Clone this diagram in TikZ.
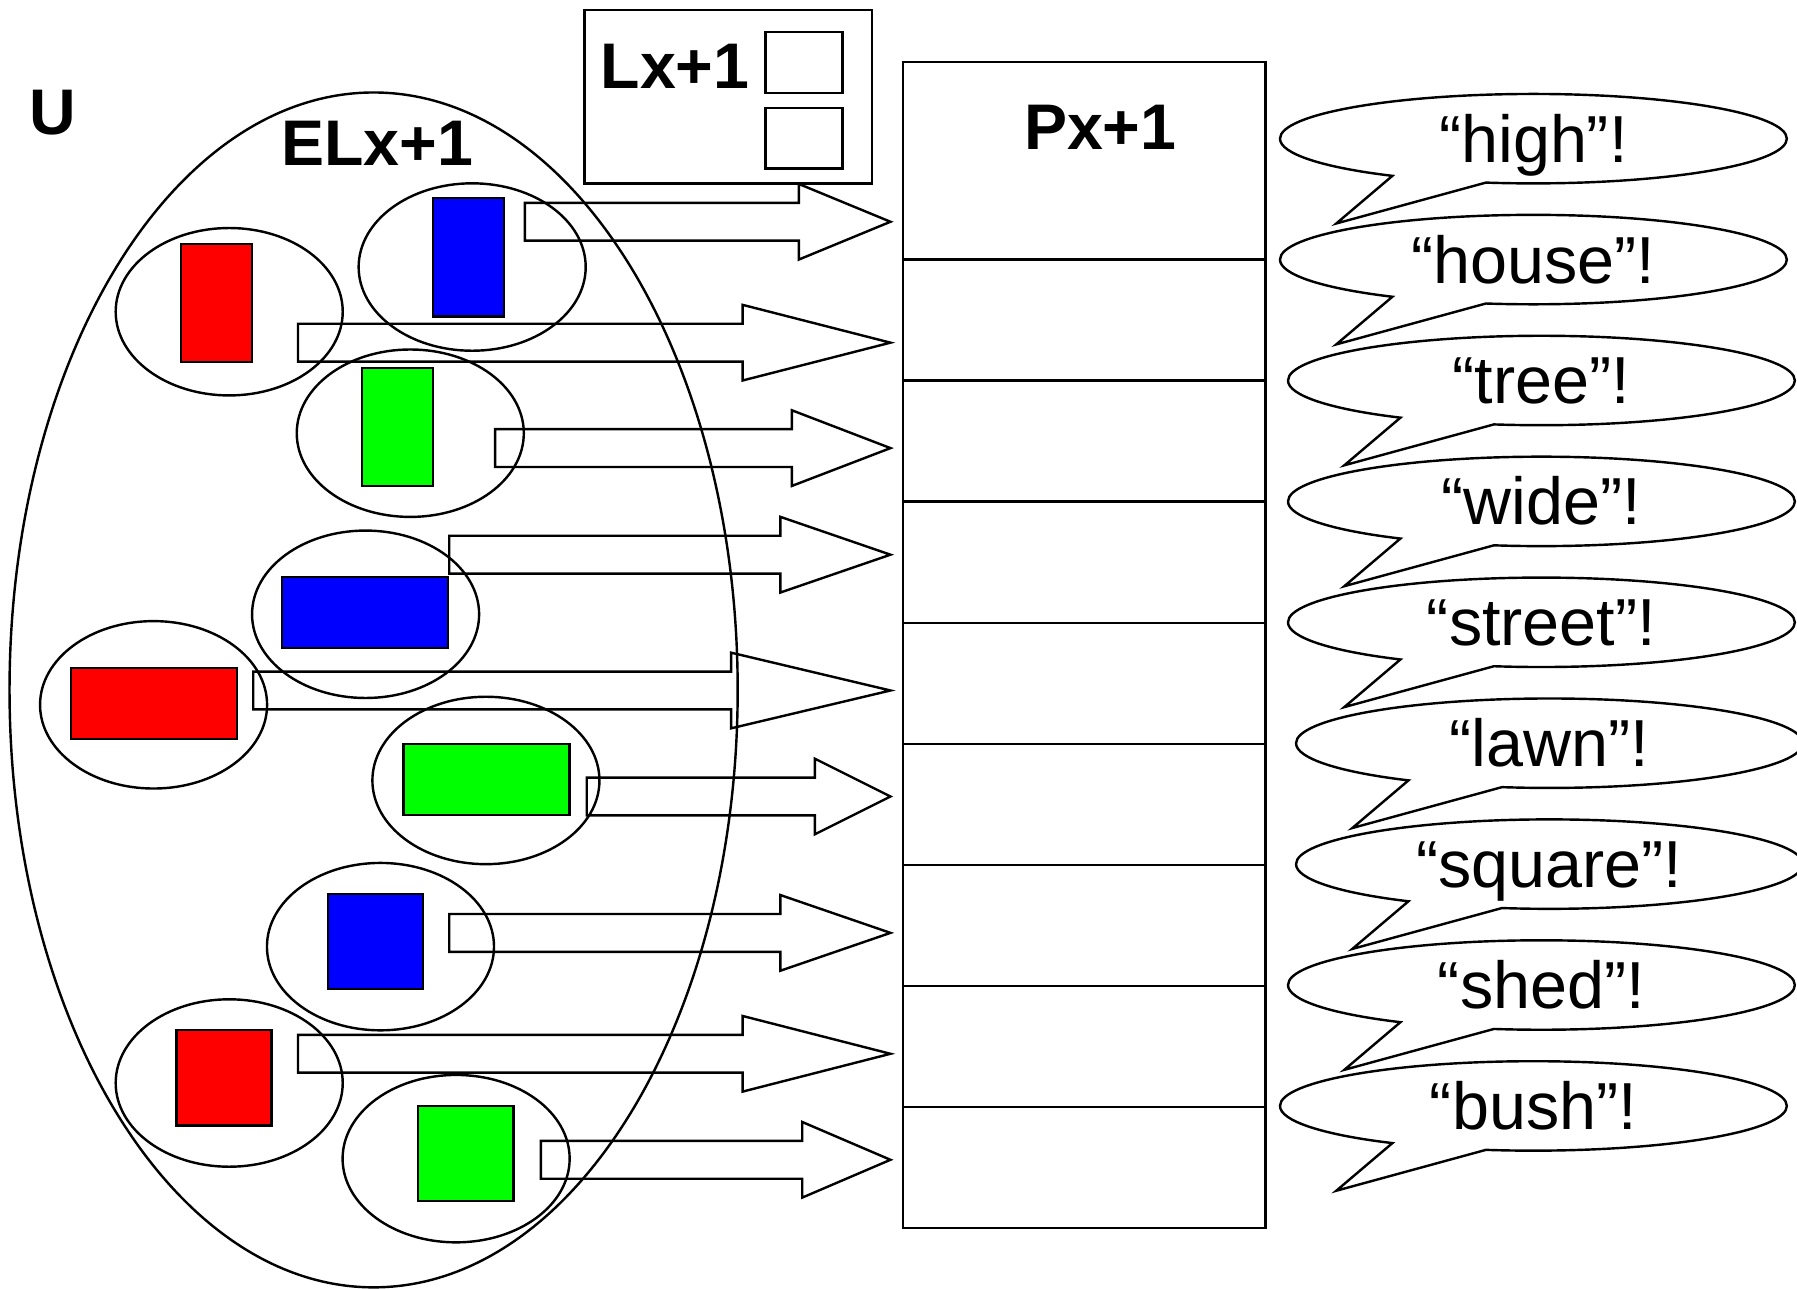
\documentclass[tikz,border=0pt]{standalone}
\usepackage{fontspec}
\setmainfont{Liberation Sans}
\usetikzlibrary{positioning,shapes.geometric,shapes.callouts}
\definecolor{ElemRed}{HTML}{FF0000}
\definecolor{ElemBlue}{HTML}{0000FF}
\definecolor{ElemGreen}{HTML}{00FF00}
\tikzset{
  every node/.style = {inner sep=0pt, outer sep=0pt},
  lbl/.style        = {font=\bfseries\fontsize{16}{19}\selectfont},
  elx/.style        = {ellipse, draw, line width=0.6pt,
                       minimum width=6.35cm, minimum height=10.42cm},
  elem/.style       = {ellipse, draw, line width=0.6pt,
                       minimum width=1.98cm, minimum height=1.46cm},
  tallbox/.style    = {rectangle, draw, line width=0.6pt,
                       minimum width=0.62cm, minimum height=1.03cm},
  widebox/.style    = {tallbox, minimum width=1.45cm, minimum height=0.62cm},
  sqbox/.style      = {tallbox, minimum width=0.83cm, minimum height=0.83cm},
  slot/.style       = {rectangle, draw, line width=0.6pt,
                       minimum width=0.67cm, minimum height=0.53cm},
  lframe/.style     = {rectangle, draw, line width=0.6pt,
                       minimum width=2.51cm, minimum height=1.51cm},
  pcell/.style      = {rectangle, draw, line width=0.6pt,
                       minimum width=3.16cm, minimum height=1.056cm},
  ptitle/.style     = {pcell, minimum height=1.72cm},
  fatarrow/.style   = {draw, line width=0.6pt, line join=miter},
  word/.style       = {ellipse callout, draw, line width=0.6pt,
                       minimum width=4.42cm, minimum height=0.78cm,
                       callout pointer arc=23,
                       text height=0.41cm, text depth=0pt,
                       font=\fontsize{16.5}{20}\selectfont},
}
\def\TipX{777}
\def\ShaftH{16.5}
\def\HeadH{33}

\begin{document}
\begin{tikzpicture}[x=0.01cm, y=0.01cm]
\useasboundingbox (0,0) rectangle (1568,-1124);

% =========================================================================
% Universe and the extension set
% =========================================================================
\node[lbl] (ulabel) at (46,-98) {U};
\node[elx] (elx) at (326,-602) {};
\node[lbl] (elxlabel) at (329,-125) {ELx+1};

% =========================================================================
% Elements (ellipse + coloured shape)
% =========================================================================
\node[elem] (e1) at (200,-272)  {};
\node[elem] (e2) at (412,-233)  {};
\node[elem] (e3) at (358,-378)  {};
\node[elem] (e4) at (319,-536)  {};
\node[elem] (e5) at (134,-615)  {};
\node[elem] (e6) at (424,-681)  {};
\node[elem] (e7) at (332,-826)  {};
\node[elem] (e8) at (200,-945)  {};
\node[elem] (e9) at (398,-1011) {};

\node[tallbox, fill=ElemRed]   (s1) at (189,-264.5)   {};
\node[tallbox, fill=ElemBlue]  (s2) at (409,-224.5)   {};
\node[tallbox, fill=ElemGreen] (s3) at (347,-372.5)   {};
\node[widebox, fill=ElemBlue]  (s4) at (318.5,-534.5) {};
\node[widebox, fill=ElemRed]   (s5) at (134.5,-614)   {};
\node[widebox, fill=ElemGreen] (s6) at (424.5,-680)   {};
\node[sqbox, fill=ElemBlue]    (s7) at (327.5,-821.5) {};
\node[sqbox, fill=ElemRed]     (s8) at (195.5,-940.5) {};
\node[sqbox, fill=ElemGreen]   (s9) at (406.5,-1006.5) {};

% =========================================================================
% Lx+1 box
% =========================================================================
\node[lframe] (lbox) at (635.5,-84.5) {};
\node[lbl] (llabel) at (589,-58) {Lx+1};
\node[slot] (slot1) at (701.5,-54.5)  {};
\node[slot] (slot2) at (701.5,-120.5) {};

% =========================================================================
% Px+1 table
% =========================================================================
\node[ptitle] (r0) at (946,-140.4) {};
\foreach \i [remember=\i as \j (initially 0)] in {1,...,8}
  \node[pcell, below=0pt of r\j] (r\i) {};
\node[lbl] (plabel) at (960,-111) {Px+1};

% =========================================================================
% Block arrows (tail x / centre y / head base x)
% =========================================================================
\foreach \tx/\ay/\hx in {458/193.5/697, 260/299/648, 432/391/691,
                         392/484/681, 221/602.5/638, 512/695/711,
                         392/814/681, 260/919.5/648, 472/1012/700}
  \draw[fatarrow] (\tx,{\ShaftH-\ay}) -- (\hx,{\ShaftH-\ay})
    -- (\hx,{\HeadH-\ay}) -- (\TipX,-\ay) -- (\hx,{-\HeadH-\ay})
    -- (\hx,{-\ShaftH-\ay}) -- (\tx,{-\ShaftH-\ay}) -- cycle;

% =========================================================================
% Speech bubbles (pointer tip 172 left, 74 below the centre)
% =========================================================================
\foreach \w/\cx/\cy [count=\k] in {high/1338/121, house/1338/226.5,
                                   tree/1345/332, wide/1345/437.5,
                                   street/1345/543, lawn/1352/648.5,
                                   square/1352/754, shed/1345/859.5,
                                   bush/1338/965}
  \node[word, callout absolute pointer={({\cx-172},{-\cy-74})}]
    (w\k) at (\cx,-\cy) {“\w”!};

\end{tikzpicture}
\end{document}
